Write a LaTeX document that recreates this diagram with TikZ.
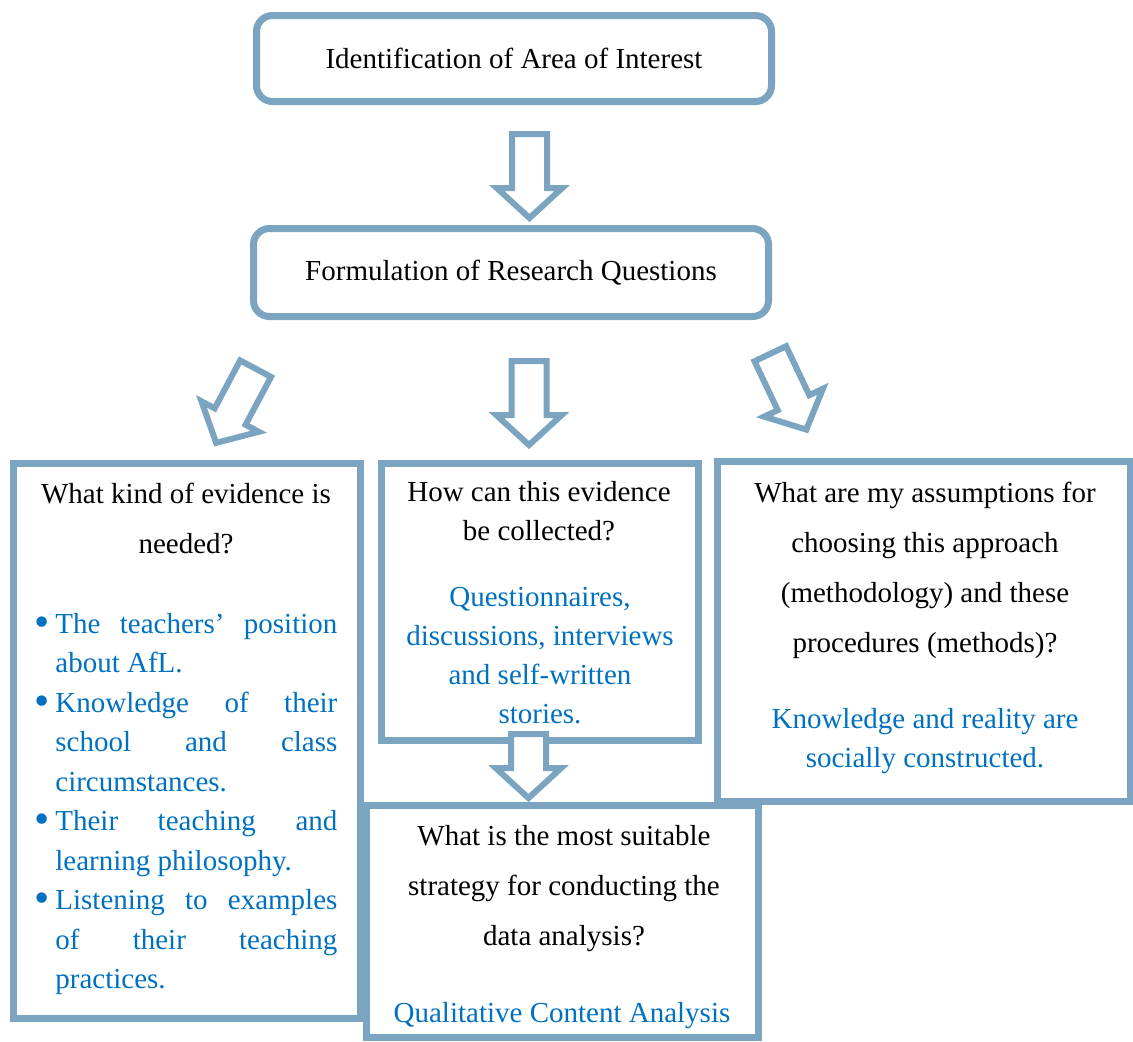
\documentclass[tikz,border=0pt]{standalone}
\usepackage{fontspec}
\setmainfont{Liberation Serif}
\usetikzlibrary{shapes.arrows}
\definecolor{framegray}{RGB}{122,164,192}
\definecolor{answerblue}{RGB}{0,112,192}
\newcommand{\boxlines}[3]{\parbox[t]{#1}{\centering\fontsize{14.5pt}{#2}\selectfont #3}}
\newcommand{\fullline}[1]{\makebox[141pt][s]{#1}}
\newcommand{\bul}{\leavevmode\llap{\raisebox{-1.6pt}{\scalebox{1.5}{\textbullet}}\hspace{3pt}}}

\begin{document}
\begin{tikzpicture}[x=0.5pt,y=-0.5pt]
\tikzset{
  roundbox/.style={draw=framegray,line width=3.5pt,rounded corners=8pt,inner sep=0pt,
    font=\fontsize{14.5pt}{17pt}\selectfont},
  sqbox/.style={draw=framegray,line width=3.5pt,inner sep=0pt},
  blockarrow/.style={single arrow,draw=framegray,fill=white,line width=3pt,
    inner xsep=0pt,inner ysep=7.25pt,minimum height=42pt,
    single arrow head extend=7.5pt,single arrow tip angle=95,anchor=tail},
  question/.style={anchor=base,inner sep=0pt},
  answer/.style={anchor=base,inner sep=0pt,text=answerblue}
}
\useasboundingbox (0,0) rectangle (1133,1041);

% top of the chart
\node[roundbox,minimum width=257.5pt,minimum height=43pt] (area) at (514,58.5) {Identification of Area of Interest};
\node[roundbox,minimum width=257.5pt,minimum height=44pt] (rq) at (511,272.5) {Formulation of Research Questions};

% the four question boxes
\node[sqbox,minimum width=173.5pt,minimum height=277.5pt] (evidence) at (186.5,740.5) {};
\node[sqbox,minimum width=158.5pt,minimum height=138.5pt] (collect) at (539.5,601.5) {};
\node[sqbox,minimum width=206.5pt,minimum height=170pt] (assume) at (923.5,631) {};
\node[sqbox,minimum width=196pt,minimum height=116pt] (analysis) at (562,921) {};

% texts
\node[question] (evidenceq) at (186,503) {\boxlines{170pt}{25pt}{What kind of evidence is\\ needed?}};
\node[answer,anchor=base west] (evidencea) at (55,633) {\parbox[t]{141pt}{\fontsize{14.5pt}{19.75pt}\selectfont
  \bul\fullline{The teachers’ position}\\
  about AfL.\\
  \bul\fullline{Knowledge of their}\\
  \fullline{school and class}\\
  circumstances.\\
  \bul\fullline{Their teaching and}\\
  learning philosophy.\\
  \bul\fullline{Listening to examples}\\
  \fullline{of their teaching}\\
  practices.}};
\node[question] (collectq) at (539,501) {\boxlines{150pt}{19.5pt}{How can this evidence\\ be collected?}};
\node[answer] (collecta) at (540,606) {\boxlines{150pt}{19.5pt}{Questionnaires,\\ discussions, interviews\\ and self-written\\ stories.}};
\node[question] (assumeq) at (925,502) {\boxlines{200pt}{25pt}{What are my assumptions for\\ choosing this approach\\ (methodology) and these\\ procedures (methods)?}};
\node[answer] (assumea) at (925,728) {\boxlines{200pt}{19.5pt}{Knowledge and reality are\\ socially constructed.}};
\node[question] (analysisq) at (564,845) {\boxlines{190pt}{25pt}{What is the most suitable\\ strategy for conducting the\\ data analysis?}};
\node[answer] (analysisa) at (562,1022) {\boxlines{190pt}{19.5pt}{Qualitative Content Analysis}};

% block arrows
\node[blockarrow,rotate=-90] (arrowtop) at (529.5,131) {};
\node[blockarrow,rotate=-118] (arrowleft) at (257,366) {};
\node[blockarrow,rotate=-90] (arrowmid) at (529,358) {};
\node[blockarrow,rotate=-64.6] (arrowright) at (769,351) {};
\node[blockarrow,rotate=-90,minimum height=32pt] (arrowdown) at (528.5,731) {};
\end{tikzpicture}
\end{document}
